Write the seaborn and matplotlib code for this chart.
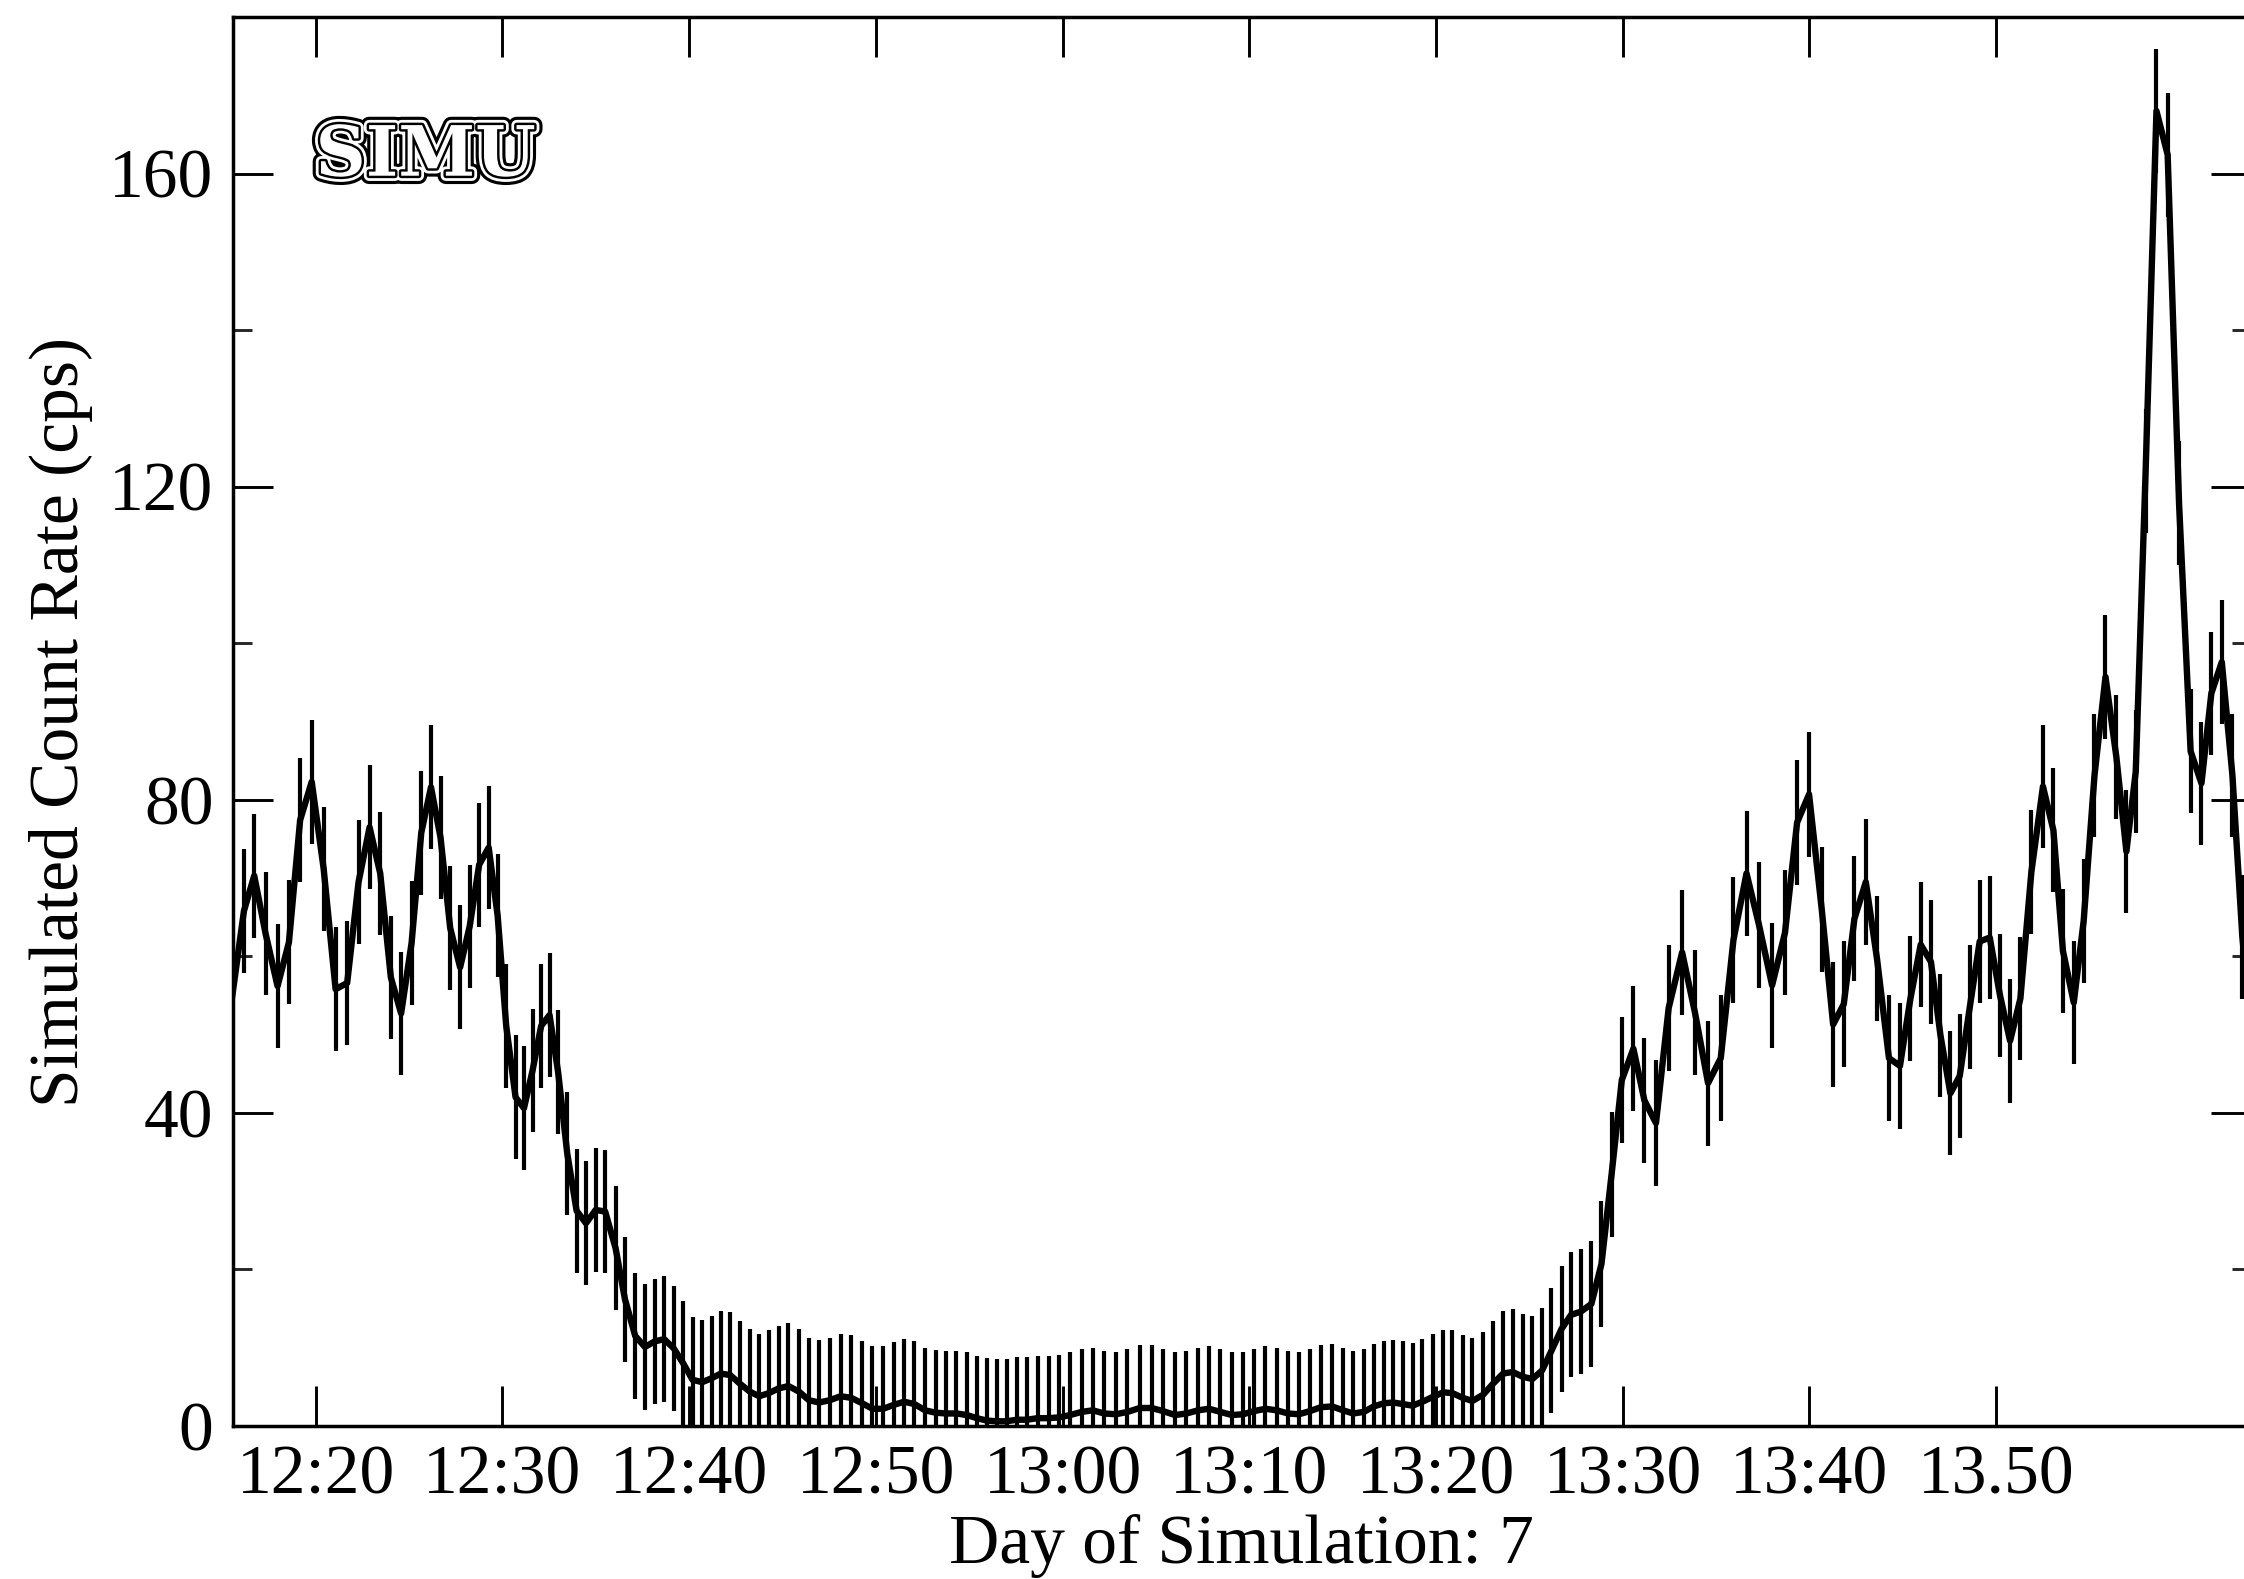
import numpy as np
import pandas as pd
import matplotlib
matplotlib.use("Agg")
import matplotlib.pyplot as plt
import seaborn as sns
from matplotlib import patheffects as pe
from matplotlib.ticker import FixedLocator, MultipleLocator, NullLocator

# ---------------- data ----------------
# bin centre times, minutes after 12:00
time_min = [
    15.51, 16.15, 16.70, 17.31, 17.95, 18.56, 19.16, 19.78, 20.42, 21.06,
    21.68, 22.29, 22.88, 23.45, 24.02, 24.57, 25.13, 25.65, 26.17, 26.68,
    27.20, 27.73, 28.24, 28.75, 29.26, 29.74, 30.20, 30.70, 31.15, 31.61,
    32.07, 32.52, 32.98, 33.47, 33.97, 34.47, 34.99, 35.50, 36.06,
    36.56, 37.11, 37.63, 38.15, 38.66, 39.18, 39.68, 40.18, 40.70, 41.20,
    41.70, 42.20, 42.72, 43.24, 43.75, 44.27, 44.79, 45.32, 45.88, 46.41,
    46.96, 47.54, 48.11, 48.68, 49.27, 49.82, 50.39, 50.96, 51.52, 52.07,
    52.64, 53.20, 53.77, 54.32, 54.87, 55.41, 55.93, 56.47, 57.00, 57.54,
    58.10, 58.66, 59.25, 59.82, 60.41, 61.02, 61.62,
    62.23, 62.86, 63.48, 64.14, 64.77, 65.39, 66.03, 66.64, 67.26, 67.85,
    68.46, 69.07, 69.67, 70.26, 70.87, 71.48, 72.08, 72.66, 73.25, 73.84,
    74.44, 75.03, 75.57, 76.14, 76.67, 77.21, 77.71, 78.24, 78.75, 79.28,
    79.82, 80.39, 80.89, 81.43, 81.96, 82.53, 83.06, 83.60, 84.12, 84.64,
    85.17, 85.69, 86.19, 86.73, 87.24, 87.76,
    88.33, 88.87, 89.41, 89.96, 90.58, 91.17, 91.79, 92.47, 93.19, 93.88,
    94.58, 95.26, 95.94, 96.64, 97.31, 98.01, 98.70, 99.35, 99.99, 100.67,
    101.28, 101.85, 102.42, 103.03, 103.63, 104.27, 104.86, 105.42, 105.97,
    106.52, 107.03, 107.56, 108.06, 108.60, 109.13, 109.67, 110.22, 110.76, 111.31,
    111.90, 112.52, 113.08, 113.59, 114.17, 114.70, 115.28, 115.87, 116.45, 116.99,
    117.49, 118.02, 118.60, 119.20, 119.81, 120.43, 121.01, 121.54, 122.10, 122.67,
    123.20, 123.70,
]

rate = [
    54.7, 65.8, 70.3, 62.9, 56.2, 61.8, 77.4, 82.3, 71.2, 55.8,
    56.6, 69.5, 76.5, 70.6, 57.3, 52.7, 61.7, 75.8, 81.6, 75.2,
    63.6, 58.6, 63.8, 71.7, 73.9, 65.2, 51.1, 42.0, 40.6, 45.4,
    51.1, 52.5, 45.2, 34.8, 27.5, 25.9, 27.6, 27.4, 22.7,
    16.2, 11.5, 10.1, 10.8, 11.1, 9.9, 8.0, 5.9, 5.6, 6.1,
    6.7, 6.5, 5.4, 4.4, 3.8, 4.2, 4.8, 5.1, 4.4, 3.3,
    3.0, 3.3, 3.8, 3.6, 2.9, 2.2, 2.2, 2.7, 3.1, 2.8,
    2.0, 1.7, 1.6, 1.6, 1.4, 1.0, 0.7, 0.6, 0.6, 0.8,
    0.8, 1.0, 1.0, 1.1, 1.4, 1.8, 2.0,
    1.6, 1.5, 1.8, 2.3, 2.3, 1.9, 1.4, 1.6, 2.0, 2.2,
    1.8, 1.4, 1.5, 1.9, 2.2, 2.0, 1.6, 1.5, 1.9, 2.4,
    2.5, 2.0, 1.6, 1.8, 2.5, 2.9, 3.0, 2.8, 2.6, 3.1,
    3.7, 4.3, 4.2, 3.6, 3.2, 4.0, 5.4, 6.7, 6.9, 6.3,
    6.0, 7.1, 9.6, 12.4, 14.2, 14.6,
    15.6, 20.7, 32.1, 44.2, 48.2, 41.6, 38.7, 53.4, 60.5, 52.8,
    43.8, 47.0, 62.1, 70.6, 64.0, 56.3, 63.0, 77.1, 80.7, 66.0,
    51.3, 53.9, 64.8, 69.5, 59.7, 47.0, 46.0, 54.6, 61.5,
    59.3, 49.9, 42.5, 44.7, 53.5, 61.9, 62.4, 55.0, 49.2, 54.6,
    70.8, 81.7, 76.1, 60.7, 54.1, 64.5, 83.1, 95.7, 85.5, 73.4,
    83.6, 122.0, 168.0, 162.4, 117.9, 86.2, 82.1, 93.6, 97.6, 83.1,
    62.5, 50.0,
]

rate_err = [
    7.9, 7.9, 7.9, 7.9, 7.9, 7.9, 7.9, 7.9, 7.9, 7.9,
    7.9, 7.9, 7.9, 7.9, 7.9, 7.9, 7.9, 7.9, 7.9, 7.9,
    7.9, 7.9, 7.9, 7.9, 7.9, 7.9, 7.9, 7.9, 7.9, 7.9,
    7.9, 7.9, 7.9, 7.9, 7.9, 7.9, 7.9, 7.9, 7.9,
    8.0, 8.0, 8.0, 8.0, 8.0, 8.0, 8.0, 8.0, 8.0, 8.0,
    8.0, 8.0, 8.0, 8.0, 8.0, 8.0, 8.0, 8.0, 8.0, 8.0,
    8.0, 8.0, 8.0, 8.0, 8.0, 8.0, 8.0, 8.0, 8.0, 8.0,
    8.0, 8.0, 8.0, 8.0, 8.0, 8.0, 8.0, 8.0, 8.0, 8.0,
    8.0, 8.0, 8.0, 8.0, 8.0, 8.0, 8.0,
    8.0, 8.0, 8.0, 8.0, 8.0, 8.0, 8.0, 8.0, 8.0, 8.0,
    8.0, 8.0, 8.0, 8.0, 8.0, 8.0, 8.0, 8.0, 8.0, 8.0,
    8.0, 8.0, 8.0, 8.0, 8.0, 8.0, 8.0, 8.0, 8.0, 8.0,
    8.0, 8.0, 8.0, 8.0, 8.0, 8.0, 8.0, 8.0, 8.0, 8.0,
    8.0, 8.0, 8.0, 8.0, 8.0, 8.0,
    8.0, 8.0, 8.0, 8.0, 8.0, 8.0, 8.0, 8.0, 8.0, 8.0,
    8.0, 8.0, 8.0, 8.0, 8.0, 8.0, 8.0, 8.0, 8.0, 8.0,
    8.0, 8.0, 8.0, 8.0, 8.0, 8.0, 8.0, 8.0, 8.0,
    7.9, 7.9, 7.9, 7.9, 7.9, 7.9, 7.9, 7.9, 7.9, 7.9,
    7.9, 7.9, 7.9, 7.9, 7.9, 7.9, 7.9, 7.9, 7.9, 7.9,
    7.9, 7.9, 7.9, 7.9, 7.9, 7.9, 7.9, 7.9, 7.9, 7.9,
    7.9, 7.9,
]

tick_minutes = [20, 30, 40, 50, 60, 70, 80, 90, 100, 110]
tick_labels = ["12:20", "12:30", "12:40", "12:50", "13:00",
               "13:10", "13:20", "13:30", "13:40", "13.50"]
y_major = [0, 40, 80, 120, 160]

x_label = "Day of Simulation: 7"
y_label = "Simulated Count Rate (cps)"
stamp = "SIMU"

# ---------------- build frame ----------------
df = pd.DataFrame({"t": time_min, "rate": rate, "err": rate_err})

sns.set_style("white")
plt.rcParams["font.family"] = ["Liberation Serif", "DejaVu Serif"]
plt.rcParams["axes.edgecolor"] = "black"

fig = plt.figure(figsize=(22.44, 15.79), dpi=100)
left, right, bottom, top = 0.1038, 1.003, 0.0969, 0.9892
ax = fig.add_axes([left, bottom, right - left, top - bottom])

ax.vlines(df["t"], df["rate"] - df["err"], df["rate"] + df["err"],
          color="black", lw=3.0, capstyle="butt", zorder=2)
sns.lineplot(data=df, x="t", y="rate", ax=ax, color="black", lw=4.6,
             estimator=None, sort=False, zorder=3)

ax.set_xlim(15.56, 123.65)
ax.set_ylim(0, 180)

ax.xaxis.set_major_locator(FixedLocator(tick_minutes))
ax.set_xticklabels(tick_labels)
ax.xaxis.set_minor_locator(NullLocator())
ax.yaxis.set_major_locator(FixedLocator(y_major))
ax.yaxis.set_minor_locator(MultipleLocator(20))

ax.tick_params(which="major", direction="in", length=28.8, width=2.1,
               top=True, right=True, bottom=True, left=True,
               labelsize=50, colors="black")
ax.tick_params(axis="x", which="major", pad=14)
ax.tick_params(axis="y", which="major", pad=14)
ax.tick_params(which="minor", direction="in", length=13.7, width=2.1,
               left=True, right=True, top=False, bottom=False)

for s in ax.spines.values():
    s.set_linewidth(2.5)
    s.set_color("black")

ax.set_xlabel(x_label, fontsize=50, labelpad=4, color="black")
ax.set_ylabel(y_label, fontsize=50, labelpad=12, color="black")

ax.text(0.041, 0.925, stamp, transform=ax.transAxes, ha="left", va="top",
        fontsize=50, fontweight="bold", family="DejaVu Serif",
        color="white",
        path_effects=[pe.Stroke(linewidth=12, foreground="black"),
                      pe.Stroke(linewidth=7.5, foreground="white"),
                      pe.Stroke(linewidth=3.5, foreground="black"),
                      pe.Normal()])

fig.savefig("out.png", dpi=100, facecolor="white")
